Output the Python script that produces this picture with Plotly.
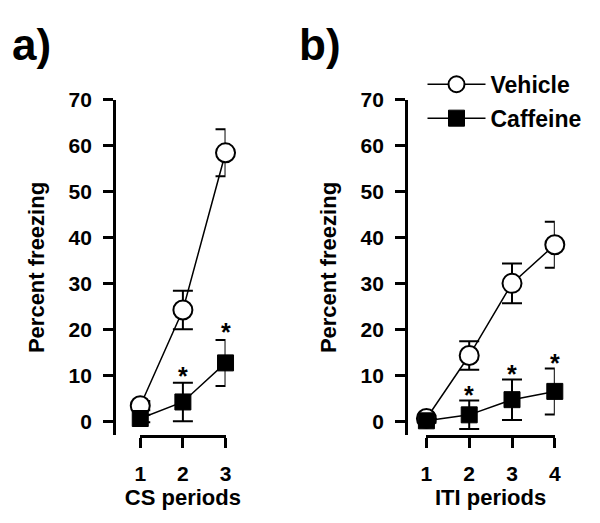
import plotly.graph_objects as go

# Panel a: CS periods
cs_periods = [1, 2, 3]
cs_vehicle = [3.5, 24.3, 58.5]
cs_vehicle_err = [1.0, 4.2, 5.1]
cs_caffeine = [0.7, 4.3, 12.8]
cs_caffeine_err = [0.8, 4.2, 5.0]
cs_star_x = [2, 3]
cs_star_y = [11.9, 21.5]

# Panel b: ITI periods
iti_periods = [1, 2, 3, 4]
iti_vehicle = [0.7, 14.4, 30.1, 38.5]
iti_vehicle_err = [0.6, 3.1, 4.3, 5.0]
iti_caffeine = [0.2, 1.5, 4.8, 6.6]
iti_caffeine_err = [0.4, 3.1, 4.4, 5.0]
iti_star_x = [2, 3, 4]
iti_star_y = [7.7, 12.3, 14.7]

y_ticks = [0, 10, 20, 30, 40, 50, 60, 70]

FONT = "Liberation Sans, Arial, sans-serif"
W, H = 600, 523


def px_x(p):
    return p / W


def px_y(p):
    return (H - p) / H


def err(vals):
    return dict(type="data", array=vals, color="black", thickness=2, width=10)


fig = go.Figure()
stars = []

for xs, veh, veh_e, caf, caf_e, sx, sy, xa, ya, leg in [
    (cs_periods, cs_vehicle, cs_vehicle_err, cs_caffeine, cs_caffeine_err,
     cs_star_x, cs_star_y, "x", "y", False),
    (iti_periods, iti_vehicle, iti_vehicle_err, iti_caffeine, iti_caffeine_err,
     iti_star_x, iti_star_y, "x2", "y2", True),
]:
    fig.add_trace(go.Scatter(
        x=xs, y=veh, error_y=err(veh_e), name="Vehicle", mode="lines+markers",
        legendgroup="veh",
        line=dict(color="black", width=1.5),
        marker=dict(symbol="circle", size=19, color="white",
                    line=dict(color="black", width=2)),
        xaxis=xa, yaxis=ya, showlegend=leg, cliponaxis=False))
    fig.add_trace(go.Scatter(
        x=xs, y=caf, error_y=err(caf_e), name="Caffeine", mode="lines+markers",
        legendgroup="caf",
        line=dict(color="black", width=1.5),
        marker=dict(symbol="square", size=16, color="black",
                    line=dict(color="black", width=1)),
        xaxis=xa, yaxis=ya, showlegend=leg, cliponaxis=False))
    # significance asterisks
    for x, y in zip(sx, sy):
        stars.append(dict(text="*", x=x, y=y, xref=xa, yref=ya, showarrow=False,
                          yshift=-9,
                          font=dict(family=FONT, size=25, color="black",
                                    weight="bold")))

axis_font = dict(family=FONT, size=21, color="black", weight="bold")
title_font = dict(family=FONT, size=22, color="black", weight="bold")
y_dom = [px_y(433), px_y(90)]
common_x = dict(showline=True, linecolor="black", linewidth=2.5, ticks="outside",
                ticklen=10, tickwidth=2.5, tickcolor="black", showgrid=False,
                zeroline=False, tickfont=axis_font, title_font=title_font,
                ticklabelstandoff=8, title_standoff=6)
common_y = dict(showline=True, linecolor="black", linewidth=2.5, ticks="outside",
                ticklen=10, tickwidth=2.5, tickcolor="black", showgrid=False,
                zeroline=False, tickfont=axis_font, title_font=title_font,
                range=[-2.9, 70], tickvals=y_ticks, domain=y_dom,
                ticklabelstandoff=7,
                anchor="free", title_text="Percent freezing", title_standoff=16)

fig.update_layout(
    width=W, height=H,
    margin=dict(l=0, r=0, t=0, b=0),
    paper_bgcolor="white", plot_bgcolor="white",
    font=dict(family=FONT, color="black"),
    xaxis=dict(common_x, domain=[px_x(137), px_x(224)], range=[1, 3],
               tickvals=cs_periods, anchor="y", title_text="CS periods"),
    yaxis=dict(common_y, position=px_x(110)),
    xaxis2=dict(common_x, domain=[px_x(429), px_x(560)], range=[1, 4],
                tickvals=iti_periods, anchor="y2", title_text="ITI periods"),
    yaxis2=dict(common_y, position=px_x(408)),
    legend=dict(x=px_x(425), y=px_y(52), xanchor="left", yanchor="top",
                font=dict(family=FONT, size=23, color="black", weight="bold"),
                bgcolor="rgba(0,0,0,0)", itemwidth=58,
                traceorder="grouped", tracegroupgap=1),
    annotations=stars + [
        dict(text="a)", x=px_x(4), y=px_y(33), xref="paper", yref="paper",
             xanchor="left", yanchor="middle", showarrow=False,
             font=dict(family=FONT, size=44, color="black", weight="bold")),
        dict(text="b)", x=px_x(297), y=px_y(33), xref="paper", yref="paper",
             xanchor="left", yanchor="middle", showarrow=False,
             font=dict(family=FONT, size=44, color="black", weight="bold")),
    ],
)

fig.write_html("out.html", config={"displayModeBar": False},
               post_script="document.body.style.margin='0';")
